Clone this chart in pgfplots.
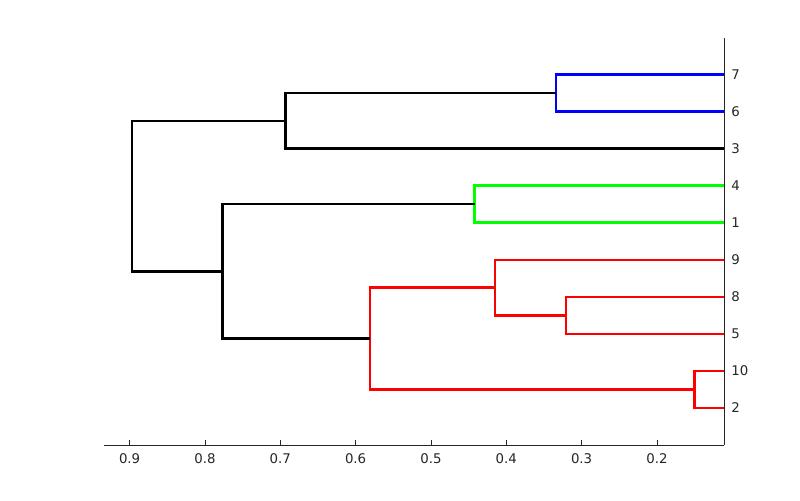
\documentclass[border=0pt]{standalone}
\usepackage{fontspec}
\setmainfont{DejaVu Sans}
\usepackage{pgfplots}
\pgfplotsset{compat=1.18}
\definecolor{axgray}{rgb}{0.15,0.15,0.15}
\begin{document}
\begin{tikzpicture}[x=0.75pt,y=0.75pt]
\path[use as bounding box] (0,0) rectangle (800,500);
\begin{axis}[
  at={(104pt*0.75,55pt*0.75)}, anchor=south west,
  scale only axis, width=465pt, height=305.6pt,
  x dir=reverse,
  xmin=0.111, xmax=0.934, ymin=0, ymax=11,
  axis x line*=bottom, axis y line*=right,
  axis line style={axgray, line width=0.6pt, -},
  xtick={0.2,0.3,0.4,0.5,0.6,0.7,0.8,0.9},
  xticklabels={0.2,0.3,0.4,0.5,0.6,0.7,0.8,0.9},
  ytick={1,2,3,4,5,6,7,8,9,10},
  yticklabels={2,10,5,8,9,1,4,3,6,7},
  yticklabel pos=right,
  ytick style={draw=none},
  xtick style={axgray, line width=0.6pt},
  tick align=inside, major tick length=3.75pt,
  ticklabel style={font=\fontsize{10}{12}\selectfont, text=axgray},
  xticklabel style={yshift=-3pt},
  yticklabel style={xshift=2pt},
  clip=true,
  every axis plot/.append style={line width=1.9pt, line join=miter, mark=none},
]
\addplot[red] coordinates {(0,1) (0.150,1) (0.150,2) (0,2)};
\addplot[red] coordinates {(0,3) (0.321,3) (0.321,4) (0,4)};
\addplot[blue] coordinates {(0,9) (0.334,9) (0.334,10) (0,10)};
\addplot[red] coordinates {(0,5) (0.415,5) (0.415,3.5) (0.321,3.5)};
\addplot[green] coordinates {(0,6) (0.442,6) (0.442,7) (0,7)};
\addplot[red] coordinates {(0.150,1.5) (0.581,1.5) (0.581,4.25) (0.415,4.25)};
\addplot[black] coordinates {(0,8) (0.693,8) (0.693,9.5) (0.334,9.5)};
\addplot[black] coordinates {(0.442,6.5) (0.7765,6.5) (0.7765,2.875) (0.581,2.875)};
\addplot[black] coordinates {(0.693,8.75) (0.897,8.75) (0.897,4.6875) (0.7765,4.6875)};
\end{axis}
\end{tikzpicture}
\end{document}
